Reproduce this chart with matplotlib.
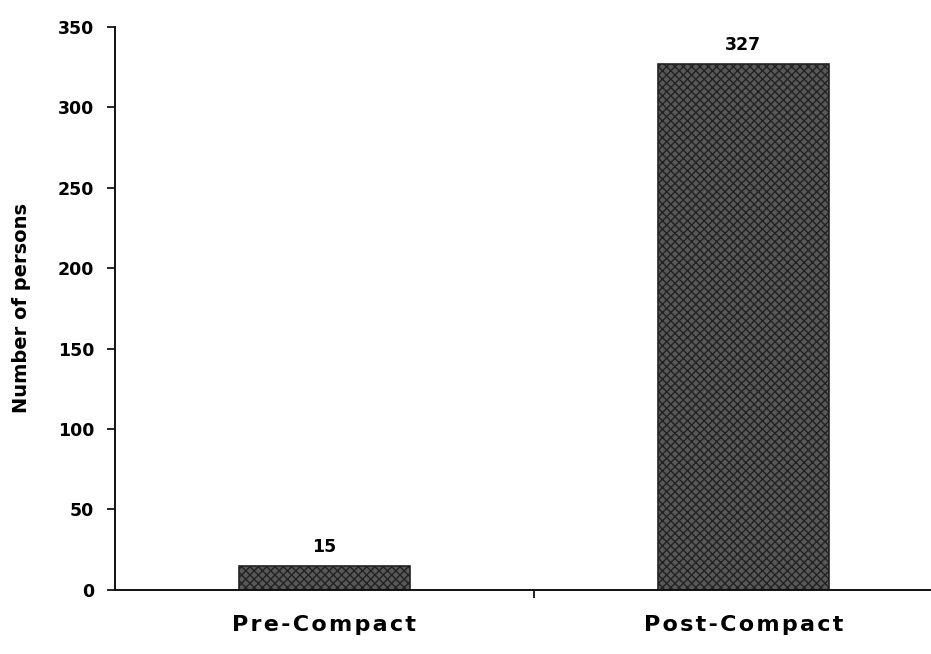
import matplotlib
matplotlib.use("Agg")
import matplotlib.pyplot as plt

categories = ["Pre-Compact", "Post-Compact"]
persons = [15, 327]
y_ticks = [0, 50, 100, 150, 200, 250, 300, 350]

plt.rcParams["font.family"] = ["DejaVu Sans"]
plt.rcParams["font.weight"] = "bold"
plt.rcParams["hatch.color"] = "#b4b4b4"
plt.rcParams["hatch.linewidth"] = 1.0

HAIR = "\u200a"


def spaced(s):
    return HAIR.join(s)


fig = plt.figure(figsize=(9.31, 6.54), dpi=100)
ax = fig.add_axes([0.1235, 0.098, 0.90, 0.861])

x = list(range(len(categories)))
bars = ax.bar(x, persons, width=0.41, color="#585858", edgecolor="#222222",
              linewidth=1.2, hatch="xxxx")

for xi, v in zip(x, persons):
    ax.annotate(str(v), (xi, v), xytext=(0, 7), textcoords="offset points",
                ha="center", va="bottom", fontsize=12.5, fontweight="bold")

ax.set_xlim(-0.5, 1.5)
ax.set_ylim(0, 350)
ax.set_yticks(y_ticks)
ax.set_yticklabels([str(t) for t in y_ticks], fontsize=12.5, fontweight="bold")

ax.set_xticks([0.5], minor=True)
ax.set_xticks(x)
ax.set_xticklabels([spaced(c) for c in categories], fontsize=16, fontweight="bold")
ax.tick_params(axis="x", which="major", length=0, pad=18)
ax.tick_params(axis="x", which="minor", length=6, width=1.2, direction="out")
ax.tick_params(axis="y", length=6, width=1.2, direction="out", pad=9)

for side in ("top", "right"):
    ax.spines[side].set_visible(False)
for side in ("left", "bottom"):
    ax.spines[side].set_linewidth(1.4)
    ax.spines[side].set_color("#111111")

ax.set_ylabel("Number of persons", fontsize=14, fontweight="bold", labelpad=19)

fig.savefig("out.png", dpi=100)
